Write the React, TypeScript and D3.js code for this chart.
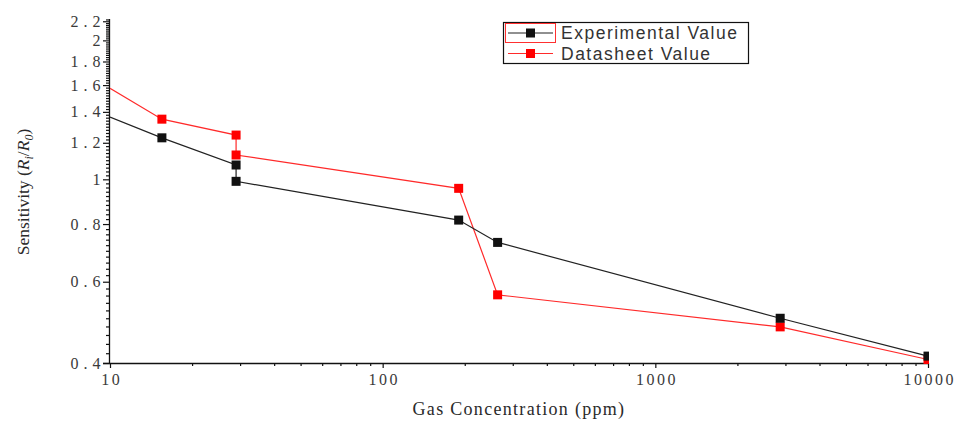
import React, { useEffect, useRef } from "react";
import * as d3 from "d3";

// readings, gas concentration in ppm against sensitivity Ri/R0
const expPpm = [10, 15.5, 29, 29, 190, 264, 2870, 10000];
const expValue = [1.364, 1.23, 1.074, 0.99, 0.816, 0.73, 0.5, 0.414];
const dsPpm = [10, 15.5, 29, 29, 190, 264, 2870, 10000];
const dsValue = [1.574, 1.35, 1.247, 1.129, 0.956, 0.562, 0.479, 0.407];

const xTicks = [10, 100, 1000, 10000];
const yTicks = [0.4, 0.6, 0.8, 1, 1.2, 1.4, 1.6, 1.8, 2, 2.2];
const seriesNames = ["Experimental Value", "Datasheet Value"];
const seriesColors = ["#111111", "#ff0000"];
const lineColors = ["#222222", "#ff2a2a"];

function Chart() {
  const ref = useRef<SVGSVGElement | null>(null);

  useEffect(() => {
    var width = 955,
      height = 421;
    var left = 110,
      right = 928,
      top = 19,
      bottom = 363;

    var svg = d3.select(ref.current);
    svg.selectAll("*").remove();

    var x = d3.scaleLog().domain([10, 10000]).range([left, right]);
    var y = d3.scaleLog().domain([0.4, 2.225]).range([bottom, top]);

    svg
      .append("defs")
      .append("clipPath")
      .attr("id", "plotClip")
      .append("rect")
      .attr("x", left)
      .attr("y", top)
      .attr("width", right - left + 1)
      .attr("height", bottom - top + 1);

    // x axis: decades with 2..9 minor ticks
    var xMinor: number[] = [];
    for (var d = 10; d < 10000; d *= 10)
      for (var m = 2; m <= 9; m++) xMinor.push(d * m);

    var gx = svg.append("g").attr("transform", "translate(0," + bottom + ")");
    gx.call(
      d3
        .axisBottom(x)
        .tickValues(xMinor)
        .tickSize(3)
        .tickSizeOuter(0)
        .tickFormat(() => "") as any
    );
    gx.select(".domain").remove();
    var gxMajor = svg.append("g").attr("transform", "translate(0," + bottom + ")");
    gxMajor.call(
      d3
        .axisBottom(x)
        .tickValues(xTicks)
        .tickSize(5)
        .tickSizeOuter(0)
        .tickPadding(6)
        .tickFormat((v: any) => String(v)) as any
    );
    gxMajor.select(".domain").attr("d", "M" + (left - 7) + ",0.5H" + right);

    // y axis: minor ticks every 0.02
    var yMinor = d3.range(0.42, 2.225, 0.02).filter(
      (v) => !yTicks.some((t) => Math.abs(t - v) < 1e-6)
    );
    var gy = svg.append("g").attr("transform", "translate(" + left + ",0)");
    gy.call(
      d3
        .axisLeft(y)
        .tickValues(yMinor)
        .tickSize(4)
        .tickSizeOuter(0)
        .tickFormat(() => "") as any
    );
    gy.select(".domain").remove();
    var gyMajor = svg.append("g").attr("transform", "translate(" + left + ",0)");
    gyMajor.call(
      d3
        .axisLeft(y)
        .tickValues(yTicks)
        .tickSize(7)
        .tickSizeOuter(0)
        .tickPadding(-2.5)
        .tickFormat((v: any) => String(+(+v).toFixed(2))) as any
    );
    gyMajor.select(".domain").attr("d", "M-0.5," + top + "V" + bottom);

    svg
      .selectAll(".tick line")
      .attr("stroke", "#111")
      .attr("stroke-width", 1.2);
    svg.selectAll(".domain").attr("stroke", "#111").attr("stroke-width", 1.3);
    gyMajor
      .selectAll("text")
      .style("font-family", "'Liberation Serif', serif")
      .style("font-size", "16px")
      .style("letter-spacing", "5px")
      .attr("fill", "#3a3a3a");
    gxMajor
      .selectAll("text")
      .style("font-family", "'Liberation Serif', serif")
      .style("font-size", "16px")
      .style("letter-spacing", "2.5px")
      .attr("dx", 1.2)
      .attr("fill", "#3a3a3a");

    // series
    var series = [
      { ppm: expPpm, value: expValue },
      { ppm: dsPpm, value: dsValue },
    ];
    var line = d3
      .line<[number, number]>()
      .x((p) => x(p[0]))
      .y((p) => y(p[1]));

    var plot = svg.append("g").attr("clip-path", "url(#plotClip)");
    // draw datasheet first so the experimental line sits on top
    [1, 0].forEach(function (i) {
      var pts = series[i].ppm.map((p, j) => [p, series[i].value[j]] as [number, number]);
      plot
        .append("path")
        .attr("d", line(pts) as string)
        .attr("fill", "none")
        .attr("stroke", lineColors[i])
        .attr("stroke-width", 1.2);
      // the first reading sits on the axis edge and is drawn without a symbol
      plot
        .selectAll(null)
        .data(pts.slice(1))
        .enter()
        .append("rect")
        .attr("x", (p) => x(p[0]) - 4.5)
        .attr("y", (p) => y(p[1]) - 4.5)
        .attr("width", 9)
        .attr("height", 9)
        .attr("fill", seriesColors[i]);
    });

    // axis titles
    svg
      .append("text")
      .attr("x", 519)
      .attr("y", 415)
      .attr("text-anchor", "middle")
      .attr("font-family", "'Liberation Serif', serif")
      .attr("font-size", 18)
      .attr("letter-spacing", 1.3)
      .attr("fill", "#2a2a2a")
      .text("Gas Concentration (ppm)");

    var yt = svg
      .append("text")
      .attr("transform", "translate(29,192) rotate(-90)")
      .attr("text-anchor", "middle")
      .attr("font-family", "'Liberation Serif', serif")
      .attr("font-size", 17.5)
      .attr("fill", "#2a2a2a");
    yt.append("tspan").text("Sensitivity (");
    yt.append("tspan").attr("font-style", "italic").text("R");
    yt.append("tspan")
      .attr("font-style", "italic")
      .attr("font-size", 12)
      .attr("dy", 4)
      .text("i");
    yt.append("tspan").attr("dy", -4).text("/");
    yt.append("tspan").attr("font-style", "italic").text("R");
    yt.append("tspan")
      .attr("font-style", "italic")
      .attr("font-size", 12)
      .attr("dy", 4)
      .text("0");
    yt.append("tspan").attr("dy", -4).text(")");

    // legend
    var lg = svg.append("g");
    lg.append("rect")
      .attr("x", 503.5)
      .attr("y", 22.5)
      .attr("width", 245)
      .attr("height", 41)
      .attr("fill", "white")
      .attr("stroke", "#111")
      .attr("stroke-width", 1.2);
    lg.append("rect")
      .attr("x", 505.5)
      .attr("y", 23.5)
      .attr("width", 50)
      .attr("height", 19)
      .attr("fill", "none")
      .attr("stroke", "#ff3030")
      .attr("stroke-width", 1);
    seriesNames.forEach(function (name, i) {
      var cy = 33 + i * 20.5;
      lg.append("line")
        .attr("x1", 508)
        .attr("x2", 553)
        .attr("y1", cy)
        .attr("y2", cy)
        .attr("stroke", lineColors[i])
        .attr("stroke-width", 1.2);
      lg.append("rect")
        .attr("x", 526)
        .attr("y", cy - 4.5)
        .attr("width", 9)
        .attr("height", 9)
        .attr("fill", seriesColors[i]);
      lg.append("text")
        .attr("x", 561)
        .attr("y", cy + 6)
        .attr("font-family", "'Liberation Sans', Arial, sans-serif")
        .attr("font-size", 17.5)
        .attr("letter-spacing", 1.5)
        .attr("fill", "#333")
        .text(name);
    });

    svg.attr("width", width).attr("height", height);
  }, []);

  return (
    <svg
      ref={ref}
      width={955}
      height={421}
      style={{ position: "absolute", left: 0, top: 0, background: "white" }}
    />
  );
}

export default function App() {
  return <Chart />;
}
